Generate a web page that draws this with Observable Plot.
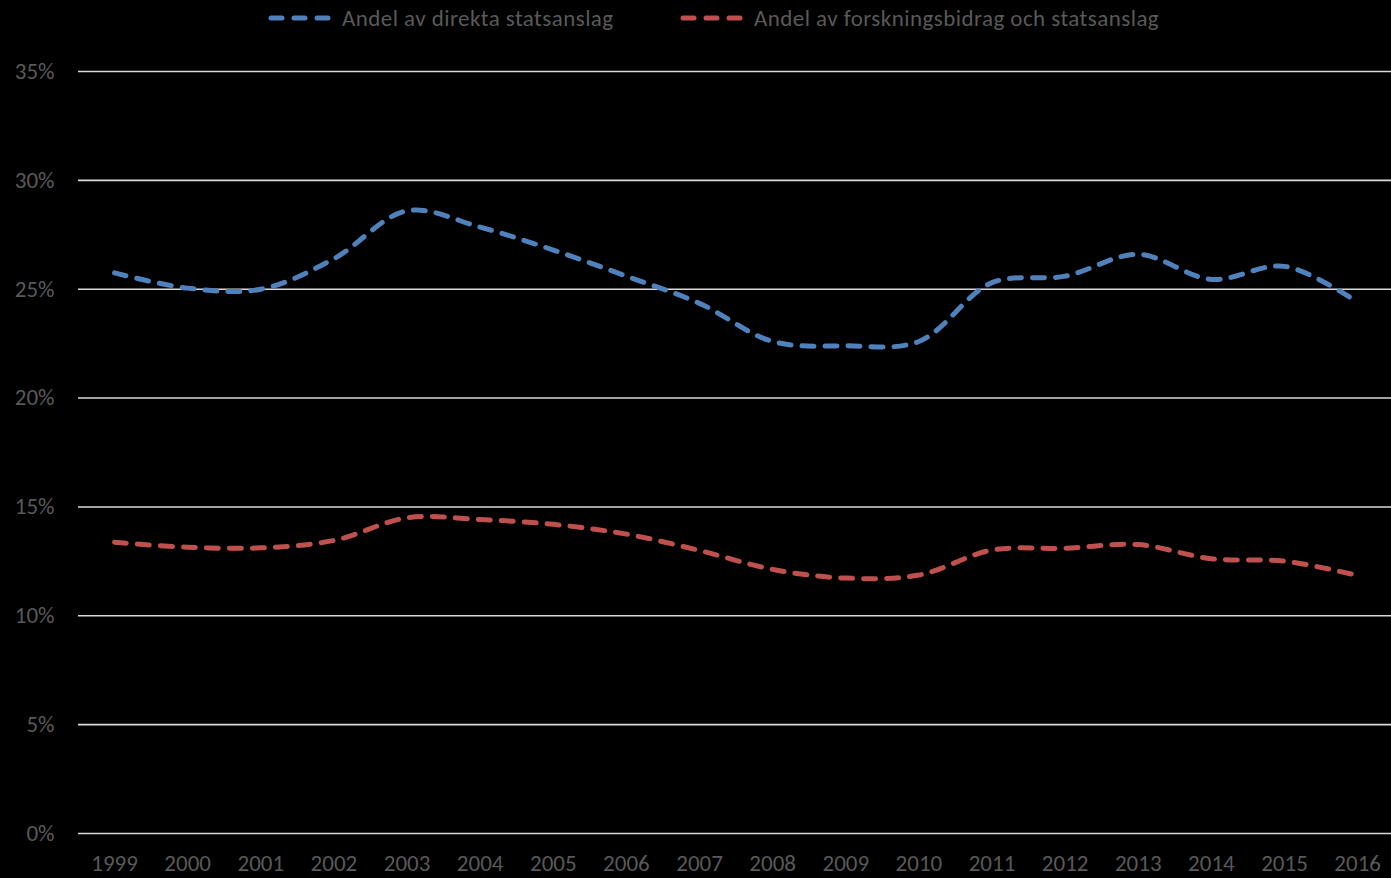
<!DOCTYPE html>
<html><head><meta charset="utf-8">
<script src="https://cdn.jsdelivr.net/npm/d3@7"></script>
<script src="https://cdn.jsdelivr.net/npm/@observablehq/plot@0.6"></script>
<style>
body{margin:0;background:#000;overflow:hidden;}
#legend{height:40px;position:relative;font-family:Carlito,'Liberation Sans Narrow','Open Sans',sans-serif;font-size:23px;color:#595959;}
.item{position:absolute;top:0;height:36px;display:flex;align-items:center;white-space:nowrap;letter-spacing:0.45px;}
.item svg{margin-right:10px;}
</style></head><body>
<div id="legend"></div><div id="chart"></div>
<script>
const years = [1999,2000,2001,2002,2003,2004,2005,2006,2007,2008,2009,2010,2011,2012,2013,2014,2015,2016];
const directShare   = [25.75,25.05,25.0,26.4,28.6,27.85,26.8,25.6,24.35,22.6,22.4,22.6,25.3,25.6,26.6,25.45,26.05,24.4];
const researchShare = [13.38,13.15,13.12,13.46,14.5,14.42,14.2,13.75,13.0,12.13,11.73,11.87,13.02,13.1,13.27,12.62,12.51,11.85];
const seriesNames  = ["Andel av direkta statsanslag","Andel av forskningsbidrag och statsanslag"];
const seriesColors = ["#4F81BD","#C0504D"];
const yTicks = [0,5,10,15,20,25,30,35];
const legendLeft = [268,680];

const FONT = "Carlito, 'Liberation Sans Narrow', 'Open Sans', sans-serif";

// legend
const legend = document.getElementById("legend");
seriesNames.forEach((name,i)=>{
  const it = document.createElement("div");
  it.className="item";
  it.style.left = legendLeft[i]+"px";
  it.innerHTML = `<svg width="64" height="10"><line x1="3" y1="5" x2="61" y2="5" stroke="${seriesColors[i]}" stroke-width="5" stroke-linecap="round" stroke-dasharray="11,12"/></svg><span>${name}</span>`;
  legend.appendChild(it);
});

const data = years.flatMap((yr,i)=>[
  {year:yr, value:directShare[i], series:seriesNames[0]},
  {year:yr, value:researchShare[i], series:seriesNames[1]}
]);

const chart = Plot.plot({
  width:1391, height:838,
  marginLeft:78, marginRight:0, marginTop:31, marginBottom:45,
  style:{background:"#000", color:"#595959", fontFamily:FONT, fontSize:"23px", overflow:"visible"},
  x:{type:"linear", domain:[1998.5,2016.5], range:[77.5,1393.7]},
  y:{domain:[0,35]},
  color:{domain:seriesNames, range:seriesColors},
  marks:[
    Plot.ruleY(yTicks,{stroke:"#d9d9d9", strokeWidth:1.6}),
    Plot.axisX({ticks:years, tickSize:0, tickPadding:21, tickFormat:d=>String(d), label:null, fontSize:23, fill:"#595959"}),
    Plot.axisY({ticks:yTicks, tickSize:0, tickPadding:24, tickFormat:d=>d+"%", label:null, fontSize:23, fill:"#595959"}),
    Plot.line(data,{x:"year", y:"value", z:"series", stroke:"series", curve:"catmull-rom", strokeWidth:5, strokeDasharray:"12,11", strokeLinecap:"round"})
  ]
});
document.getElementById("chart").appendChild(chart);
</script>
</body></html>
